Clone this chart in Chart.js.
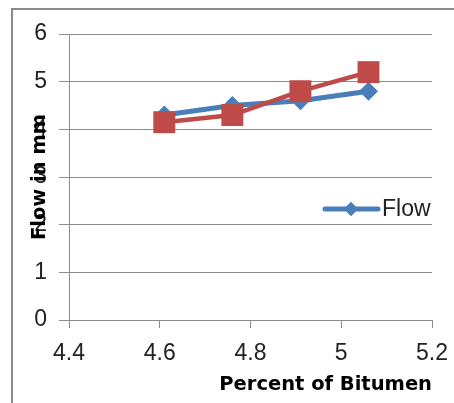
<!DOCTYPE html>
<html><head><meta charset="utf-8">
<script src="https://cdn.jsdelivr.net/npm/chart.js@4.4.1/dist/chart.umd.min.js"></script>
<style>html,body{margin:0;background:#fff}#wrap{width:454px;height:403px;position:relative}</style>
</head><body><div id="wrap"><canvas id="c"></canvas></div>
<script>
const bitumen = [4.61, 4.76, 4.91, 5.06];
const flowA = [4.3, 4.5, 4.6, 4.8];
const flowB = [4.15, 4.3, 4.8, 5.2];
const xTicks = [4.4, 4.6, 4.8, 5, 5.2];
const yTicks = [0, 1, 2, 3, 4, 5, 6];
const xTitle = "Percent of Bitumen";
const yTitle = "Flow in mm";

const BLUE = '#4a7ebb', RED = '#be4b48', GRID = '#8c8c8c';
const tickFont = { family: 'Liberation Sans', size: 23 };
const titleFont = 'bold 19.5px "DejaVu Sans"';

// frame, axis titles and the little "Flow" legend drawn inside the plot
const extras = {
    id: 'extras',
    beforeDraw(chart) {
        const ctx = chart.ctx;
        ctx.save();
        ctx.strokeStyle = '#8a8a8a'; ctx.lineWidth = 2;
        ctx.beginPath(); ctx.moveTo(12, 403); ctx.lineTo(12, 9); ctx.lineTo(454, 9); ctx.stroke();
        ctx.restore();
    },
    afterDraw(chart) {
        const { ctx, chartArea: a } = chart;
        ctx.save();
        ctx.fillStyle = '#000';
        ctx.font = titleFont;
        ctx.textBaseline = 'middle';
        ctx.textAlign = 'right';
        ctx.fillText(xTitle, a.right, a.bottom + 65);
        ctx.translate(a.left - 29, (a.top + a.bottom) / 2);
        ctx.rotate(-Math.PI / 2);
        ctx.textAlign = 'center';
        ctx.fillText(yTitle, 0, 0);
        ctx.restore();

        const ly = a.top + 175;
        ctx.save();
        ctx.strokeStyle = BLUE; ctx.lineWidth = 5; ctx.lineCap = 'round';
        ctx.beginPath(); ctx.moveTo(a.right - 107, ly); ctx.lineTo(a.right - 54, ly); ctx.stroke();
        ctx.fillStyle = BLUE;
        Chart.helpers.drawPoint(ctx, { pointStyle: 'rectRot', radius: 7, borderWidth: 0 }, a.right - 81, ly);
        ctx.fill();
        ctx.fillStyle = '#222';
        ctx.font = '23px "Liberation Sans"';
        ctx.textAlign = 'left'; ctx.textBaseline = 'middle';
        ctx.fillText('Flow', a.right - 50, ly + 1);
        ctx.restore();
    }
};

new Chart(document.getElementById('c'), {
    type: 'scatter',
    data: {
        datasets: [
            { label: 'Flow', data: bitumen.map((x, i) => ({ x, y: flowA[i] })), showLine: true,
              borderColor: BLUE, backgroundColor: BLUE, borderWidth: 5, pointStyle: 'rectRot',
              pointRadius: 9.5, pointHoverRadius: 9.5, pointBorderWidth: 0, order: 1 },
            { label: 'Flow 2', data: bitumen.map((x, i) => ({ x, y: flowB[i] })), showLine: true,
              borderColor: RED, backgroundColor: RED, borderWidth: 4.5, pointStyle: 'rect',
              pointRadius: 15.5, pointHoverRadius: 15.5, pointBorderWidth: 0, order: 0 }
        ]
    },
    options: {
        responsive: true, maintainAspectRatio: false, animation: false,
        layout: { padding: { top: 34, right: 22, left: 0, bottom: 0 } },
        plugins: { legend: { display: false }, tooltip: { enabled: false } },
        scales: {
            x: {
                min: 4.4, max: 5.2,
                afterBuildTicks: s => { s.ticks = xTicks.map(v => ({ value: v })); },
                afterFit: s => { s.height = 83; s.paddingLeft = 0; s.paddingRight = 0; },
                grid: { drawOnChartArea: false, drawTicks: true, tickLength: 8, color: GRID },
                border: { color: GRID, width: 1 },
                ticks: { font: tickFont, color: '#222', padding: 12, maxRotation: 0, callback: v => String(v) }
            },
            y: {
                min: 0, max: 6,
                afterBuildTicks: s => { s.ticks = yTicks.map(v => ({ value: v })); },
                afterFit: s => { s.width = 69; s.paddingTop = 0; s.paddingBottom = 0; },
                grid: { color: GRID, tickLength: 10 },
                border: { color: GRID, width: 1 },
                ticks: { font: tickFont, color: '#222', padding: 12, callback: v => String(v) }
            }
        }
    },
    plugins: [extras]
});
</script>
</body></html>
